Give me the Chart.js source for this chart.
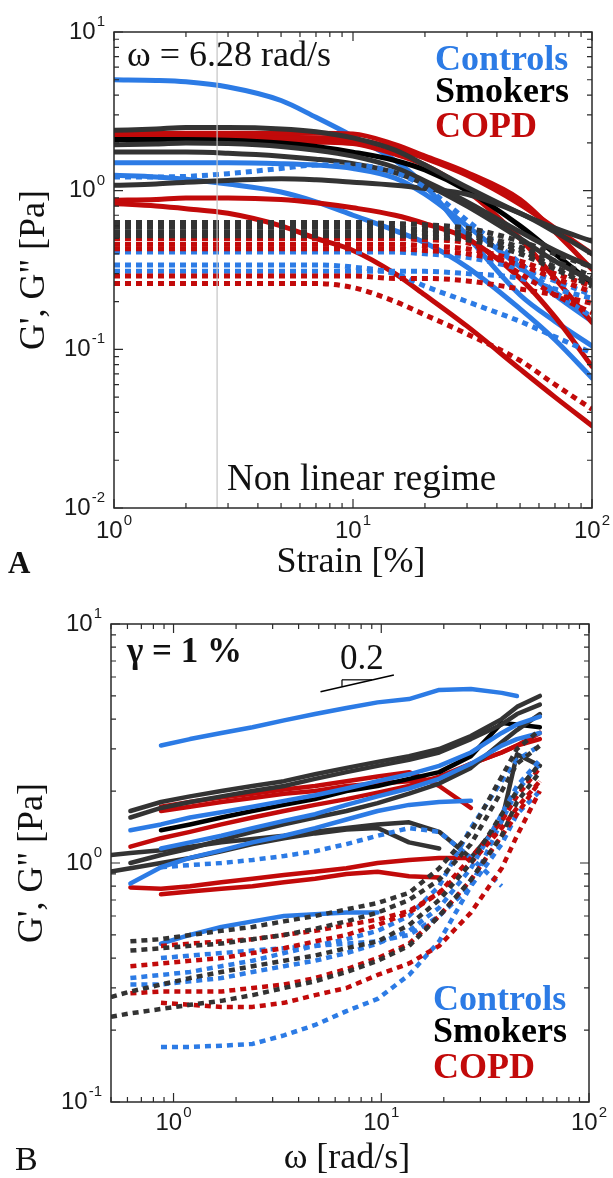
<!DOCTYPE html>
<html>
<head>
<meta charset="utf-8">
<script src="https://cdn.jsdelivr.net/npm/chart.js@4.4.1/dist/chart.umd.min.js"></script>
<style>
    body {margin: 0; background: #fff;}
    #wrap {position: relative; width: 613px; height: 1178px;}
    canvas {position: absolute; left: 0;}
</style>
</head>
<body>
<div id="wrap">
    <canvas id="chartA" width="613" height="589" style="top:0"></canvas>
    <canvas id="chartB" width="613" height="589" style="top:589px"></canvas>
</div>
<script>
// ---------- panel A: strain sweep at 6.28 rad/s ----------
const strain = [1, 1.5, 2, 3, 5, 7, 10, 15, 20, 30, 50, 70, 100];

// G' (solid)
const ctrlG1 = [5.0, 4.95, 4.85, 4.5, 3.7, 2.9, 2.2, 1.55, 1.08, 0.52, 0.22, 0.15, 0.105];
const ctrlG2 = [1.5, 1.5, 1.5, 1.5, 1.48, 1.45, 1.38, 1.2, 0.95, 0.6, 0.33, 0.22, 0.15];
const ctrlG3 = [1.25, 1.22, 1.18, 1.1, 0.98, 0.85, 0.7, 0.56, 0.47, 0.33, 0.18, 0.115, 0.066];
const smkG1 = [2.4, 2.45, 2.5, 2.5, 2.45, 2.35, 2.15, 1.8, 1.45, 1.05, 0.72, 0.58, 0.48];
const smkG2 = [1.95, 1.97, 2.0, 1.98, 1.9, 1.8, 1.65, 1.4, 1.15, 0.85, 0.55, 0.42, 0.33];
const smkG3 = [1.75, 1.75, 1.75, 1.72, 1.65, 1.58, 1.48, 1.3, 1.1, 0.8, 0.5, 0.36, 0.27];
const smkG4 = [1.08, 1.1, 1.13, 1.16, 1.19, 1.17, 1.13, 1.08, 1.03, 0.95, 0.72, 0.55, 0.4];
const smkG5 = [2.1, 2.1, 2.1, 2.08, 2.0, 1.9, 1.75, 1.55, 1.35, 1.0, 0.6, 0.4, 0.26];
const copdG1 = [2.3, 2.3, 2.3, 2.3, 2.3, 2.3, 2.28, 1.95, 1.65, 1.3, 0.88, 0.55, 0.32];
const copdG2 = [2.2, 2.2, 2.2, 2.2, 2.18, 2.15, 2.1, 1.85, 1.6, 1.25, 0.82, 0.58, 0.4];
const copdG3 = [2.15, 2.15, 2.13, 2.1, 2.07, 2.03, 1.98, 1.7, 1.45, 1.0, 0.5, 0.28, 0.148];
const copdG4 = [0.87, 0.88, 0.9, 0.9, 0.88, 0.84, 0.78, 0.7, 0.62, 0.5, 0.28, 0.16, 0.078];
const copdG5 = [0.83, 0.8, 0.77, 0.72, 0.6, 0.5, 0.42, 0.3, 0.22, 0.14, 0.075, 0.05, 0.033];

// G'' (dotted)
const ctrlGpp1 = [1.22, 1.22, 1.23, 1.28, 1.38, 1.45, 1.45, 1.3, 1.05, 0.65, 0.35, 0.23, 0.16];
const ctrlGpp2 = [0.41, 0.41, 0.41, 0.41, 0.41, 0.41, 0.41, 0.41, 0.4, 0.38, 0.32, 0.27, 0.22];
const ctrlGpp3 = [0.34, 0.34, 0.34, 0.34, 0.34, 0.34, 0.33, 0.3, 0.25, 0.2, 0.15, 0.12, 0.095];
const ctrlGpp4 = [0.31, 0.31, 0.31, 0.31, 0.31, 0.31, 0.31, 0.31, 0.31, 0.3, 0.28, 0.24, 0.21];
const smkGpp1 = [0.63, 0.63, 0.63, 0.63, 0.63, 0.63, 0.63, 0.62, 0.61, 0.58, 0.48, 0.4, 0.33];
const smkGpp2 = [0.59, 0.59, 0.59, 0.59, 0.59, 0.59, 0.59, 0.58, 0.57, 0.54, 0.44, 0.36, 0.29];
const smkGpp3 = [0.55, 0.55, 0.55, 0.55, 0.55, 0.55, 0.55, 0.55, 0.54, 0.52, 0.42, 0.33, 0.26];
const smkGpp4 = [0.52, 0.52, 0.52, 0.52, 0.52, 0.52, 0.52, 0.52, 0.51, 0.49, 0.4, 0.32, 0.25];
const copdGpp1 = [0.5, 0.5, 0.5, 0.5, 0.5, 0.5, 0.5, 0.5, 0.49, 0.47, 0.3, 0.22, 0.17];
const copdGpp2 = [0.46, 0.46, 0.46, 0.46, 0.46, 0.46, 0.46, 0.46, 0.45, 0.43, 0.36, 0.3, 0.25];
const copdGpp3 = [0.43, 0.43, 0.43, 0.43, 0.43, 0.43, 0.43, 0.43, 0.42, 0.4, 0.34, 0.28, 0.23];
const copdGpp4 = [0.29, 0.29, 0.29, 0.29, 0.29, 0.29, 0.29, 0.28, 0.28, 0.27, 0.24, 0.22, 0.195];
const copdGpp5 = [0.26, 0.26, 0.26, 0.26, 0.26, 0.26, 0.245, 0.2, 0.165, 0.125, 0.085, 0.06, 0.042];

const linearLimit = 2.7; // strain [%] where the grey line sits

// ---------- panel B: frequency sweep at 1 % strain ----------
const omega = [0.5, 0.62, 0.87, 1.2, 1.7, 2.4, 3.4, 4.8, 6.8, 9.6, 13.6, 19, 27, 38, 45, 58];

const ctrlB_G1 = [null, null, 3.1, 3.3, 3.5, 3.7, 3.95, 4.2, 4.45, 4.7, 4.85, 5.3, 5.35, 5.15, 5.0, null];
const ctrlB_G2 = [null, 1.37, 1.45, 1.55, 1.63, 1.72, 1.82, 1.92, 2.05, 2.2, 2.35, 2.55, 2.9, 3.5, 3.8, 4.1];
const ctrlB_G3 = [null, 0.82, 0.96, 1.05, 1.13, 1.22, 1.3, 1.4, 1.52, 1.65, 1.75, 1.8, 1.82, null, null, null];
const ctrlB_G4 = [null, null, 1.15, 1.22, 1.3, 1.4, 1.5, 1.6, 1.75, 1.9, 2.05, 2.25, 2.6, 3.1, 3.3, 3.5];
const ctrlB_G5 = [null, null, 0.46, 0.5, 0.54, 0.57, 0.6, 0.61, 0.62, 0.62, null, null, null, null, null, null];
const smkB_G0 = [null, null, 1.37, 1.45, 1.55, 1.65, 1.75, 1.85, 2.0, 2.1, 2.25, 2.4, 2.8, 3.85, 3.8, 3.7];
const smkB_G1 = [null, 1.65, 1.8, 1.9, 2.0, 2.1, 2.2, 2.35, 2.5, 2.65, 2.8, 3.0, 3.4, 4.0, 4.5, 5.0];
const smkB_G2 = [null, 1.55, 1.7, 1.8, 1.9, 2.0, 2.1, 2.25, 2.4, 2.55, 2.7, 2.9, 3.3, 3.8, 4.2, 4.6];
const smkB_G3 = [1.08, 1.1, 1.13, 1.17, 1.22, 1.26, 1.3, 1.35, 1.4, 1.45, 1.48, 1.35, 1.05, 1.5, 2.85, 2.55];
const smkB_G4 = [0.92, 0.95, 1.0, 1.05, 1.12, 1.2, 1.27, 1.33, 1.38, 1.4, 1.22, 1.15, null, null, null, null];
const smkB_G5 = [null, 1.0, 1.08, 1.15, 1.25, 1.35, 1.45, 1.55, 1.65, 1.78, 1.95, 2.15, 2.5, 3.2, 3.6, 4.2];
const copdB_G1 = [null, null, 1.72, 1.8, 1.88, 1.95, 2.03, 2.1, 2.2, 2.3, 2.4, 2.1, 1.7, null, null, null];
const copdB_G2 = [null, null, 1.65, 1.72, 1.8, 1.87, 1.95, 2.0, 2.1, 2.15, 2.2, 2.25, 2.6, 2.9, 3.1, 3.5];
const copdB_G3 = [null, 1.17, 1.27, 1.35, 1.45, 1.55, 1.65, 1.75, 1.85, 1.97, 2.1, 2.3, 2.6, 2.9, 3.1, 3.3];
const copdB_G4 = [null, 0.79, 0.78, 0.8, 0.83, 0.86, 0.89, 0.92, 0.95, 1.0, 1.03, 1.05, 1.05, null, null, null];
const copdB_G5 = [null, null, 0.74, 0.76, 0.78, 0.8, 0.83, 0.86, 0.9, 0.92, 0.88, 0.87, null, null, null, null];

const ctrlB_Gpp1 = [null, null, 0.96, 0.98, 1.0, 1.03, 1.07, 1.12, 1.2, 1.3, 1.4, 1.35, 1.05, 0.8, null, null];
const ctrlB_Gpp2 = [null, 0.33, 0.34, 0.35, 0.37, 0.39, 0.42, 0.45, 0.48, 0.52, 0.6, 0.8, 1.4, 2.2, 2.7, 3.1];
const ctrlB_Gpp3 = [null, 0.31, 0.31, 0.32, 0.33, 0.35, 0.37, 0.39, 0.42, 0.46, 0.52, 0.65, 0.95, 1.6, 2.1, 2.7];
const ctrlB_Gpp4 = [null, null, 0.17, 0.17, 0.172, 0.175, 0.19, 0.21, 0.24, 0.27, 0.34, 0.47, 0.8, 1.5, 2.0, 2.6];
const ctrlB_Gpp5 = [null, null, 0.4, 0.41, 0.42, 0.43, 0.44, 0.45, 0.46, 0.47, 0.5, 0.6, 0.8, 1.2, 1.6, 2.0];
const smkB_Gpp1 = [null, 0.47, 0.48, 0.5, 0.52, 0.54, 0.57, 0.6, 0.64, 0.68, 0.75, 0.95, 1.35, 2.3, 3.0, 3.6];
const smkB_Gpp2 = [null, 0.43, 0.44, 0.45, 0.46, 0.48, 0.5, 0.53, 0.57, 0.62, 0.7, 0.85, 1.2, 2.0, 2.6, 3.1];
const smkB_Gpp3 = [0.275, 0.29, 0.31, 0.33, 0.35, 0.37, 0.39, 0.41, 0.44, 0.47, 0.55, 0.7, 1.0, 1.6, 2.0, 2.6];
const smkB_Gpp4 = [0.227, 0.235, 0.245, 0.255, 0.265, 0.28, 0.3, 0.32, 0.35, 0.39, 0.45, 0.6, 0.85, 1.3, 1.8, 2.4];
const copdB_Gpp1 = [null, 0.37, 0.38, 0.39, 0.4, 0.42, 0.44, 0.47, 0.5, 0.55, 0.62, 0.75, 1.05, 1.5, 1.9, 2.5];
const copdB_Gpp2 = [null, null, 0.45, 0.46, 0.47, 0.48, 0.5, 0.52, 0.55, 0.58, 0.63, 0.75, 1.0, 1.4, 1.7, 2.2];
const copdB_Gpp3 = [null, 0.285, 0.29, 0.29, 0.29, 0.3, 0.31, 0.33, 0.36, 0.4, 0.46, 0.6, 0.85, 1.3, 1.6, 2.2];
const copdB_Gpp4 = [null, null, 0.26, 0.255, 0.25, 0.25, 0.26, 0.28, 0.3, 0.34, 0.38, 0.45, 0.62, 0.95, 1.3, 2.0];

// slope 0.2 guide (omega, G)
const slopeX = [5.1, 11.5];
const slopeY = [5.21, 6.12];
const triX = [6.47, 9.03, 6.47, 6.47];
const triY = [5.84, 5.84, 5.84, 5.47];

const BLUE = '#2c7be5';
const GREY = '#333333';
const BLACK = '#000000';
const RED = '#c20a0a';
const SERIF = '"Liberation Serif", "Times New Roman", serif';
const SANS = '"Liberation Sans", Arial, sans-serif';

const curve = function (xs, ys, color, dotted, width, tension) {
    const pts = [];
    xs.forEach((x, i) => {
        if (ys[i] != null) pts.push({x: x, y: ys[i]});
    });
    return {
        data: pts,
        borderColor: color,
        borderWidth: width,
        borderDash: dotted ? [6, 5] : [],
        borderCapStyle: dotted ? 'butt' : 'round',
        borderJoinStyle: 'round',
        pointRadius: 0,
        fill: false,
        tension: tension,
        cubicInterpolationMode: tension ? 'monotone' : 'default',
    };
}

const pairs = (xs, ys) => xs.map((x, i) => ({x: x, y: ys[i]}));

// frame, inward ticks, 10^n labels and all texts
const decoPlugin = function (cfg) {
    return {
        id: 'deco',
        afterDraw(chart) {
            const {ctx, chartArea: a} = chart;
            const xs = chart.scales.x, ys = chart.scales.y;
            ctx.save();
            ctx.strokeStyle = '#2a2a2a';
            ctx.lineWidth = 1.5;
            ctx.strokeRect(a.left, a.top, a.right - a.left, a.bottom - a.top);

            const decadeMarks = (min, max) => {
                const out = [];
                for (let k = Math.floor(Math.log10(min)); k <= Math.ceil(Math.log10(max)); k++) {
                    for (let m = 1; m <= 9; m++) {
                        const v = m * Math.pow(10, k);
                        if (v >= min * 0.999 && v <= max * 1.001) out.push({v: v, major: m === 1, k: k});
                    }
                }
                return out;
            };
            ctx.lineWidth = 1.2;
            ctx.beginPath();
            decadeMarks(xs.min, xs.max).forEach(t => {
                const px = xs.getPixelForValue(t.v), len = t.major ? 9 : 5;
                ctx.moveTo(px, a.bottom); ctx.lineTo(px, a.bottom - len);
                ctx.moveTo(px, a.top); ctx.lineTo(px, a.top + len);
            });
            decadeMarks(ys.min, ys.max).forEach(t => {
                const py = ys.getPixelForValue(t.v), len = t.major ? 9 : 5;
                ctx.moveTo(a.left, py); ctx.lineTo(a.left + len, py);
                ctx.moveTo(a.right, py); ctx.lineTo(a.right - len, py);
            });
            ctx.stroke();

            const pow = (exp, x, y, align) => {
                ctx.font = '24px ' + SANS;
                const bw = ctx.measureText('10').width;
                ctx.font = '15px ' + SANS;
                const ew = ctx.measureText(exp).width;
                const left = align === 'right' ? x - bw - ew - 1 : x - (bw + ew + 1) / 2;
                ctx.fillStyle = '#1a1a1a';
                ctx.textAlign = 'left';
                ctx.textBaseline = 'middle';
                ctx.font = '24px ' + SANS;
                ctx.fillText('10', left, y);
                ctx.font = '15px ' + SANS;
                ctx.fillText(exp, left + bw + 1, y - 10);
            };
            decadeMarks(xs.min, xs.max).filter(t => t.major).forEach(t => {
                pow(String(t.k), xs.getPixelForValue(t.v), a.bottom + cfg.xLabelGap, 'center');
            });
            decadeMarks(ys.min, ys.max).filter(t => t.major).forEach(t => {
                pow(String(t.k), a.left - 9, ys.getPixelForValue(t.v), 'right');
            });

            ctx.textBaseline = 'alphabetic';
            cfg.texts.forEach(t => {
                ctx.save();
                ctx.font = t.font;
                ctx.fillStyle = t.color || '#111';
                ctx.textAlign = t.align || 'left';
                ctx.translate(t.x, t.y);
                if (t.rotate) ctx.rotate(t.rotate);
                ctx.fillText(t.text, 0, 0);
                ctx.restore();
            });
            ctx.restore();
        }
    };
}

const baseOptions = function (pad, xMin, xMax, yMin, yMax) {
    return {
        responsive: false,
        animation: false,
        events: [],
        layout: {padding: pad},
        plugins: {legend: {display: false}, tooltip: {enabled: false}},
        scales: {
            x: {type: 'logarithmic', min: xMin, max: xMax, display: false},
            y: {type: 'logarithmic', min: yMin, max: yMax, display: false},
        },
    };
}

// ----- chart A -----
const tA = 0.35;
const dsA = [
    {data: [{x: linearLimit, y: 0.01}, {x: linearLimit, y: 10}], borderColor: '#c4c4c4', borderWidth: 1.2, pointRadius: 0},
    curve(strain, smkGpp1, GREY, true, 5, tA),
    curve(strain, smkGpp2, GREY, true, 5, tA),
    curve(strain, smkGpp3, GREY, true, 5, tA),
    curve(strain, smkGpp4, GREY, true, 5, tA),
    curve(strain, copdGpp1, RED, true, 5, tA),
    curve(strain, copdGpp2, RED, true, 5, tA),
    curve(strain, copdGpp3, RED, true, 5, tA),
    curve(strain, copdGpp4, RED, true, 5, tA),
    curve(strain, copdGpp5, RED, true, 5, tA),
    curve(strain, ctrlGpp1, BLUE, true, 5, tA),
    curve(strain, ctrlGpp2, BLUE, true, 5, tA),
    curve(strain, ctrlGpp3, BLUE, true, 5, tA),
    curve(strain, ctrlGpp4, BLUE, true, 5, tA),
    curve(strain, smkG1, GREY, false, 5, tA),
    curve(strain, smkG2, GREY, false, 5, tA),
    curve(strain, smkG3, GREY, false, 5, tA),
    curve(strain, smkG4, GREY, false, 5, tA),
    curve(strain, smkG5, BLACK, false, 5, tA),
    curve(strain, copdG1, RED, false, 5, tA),
    curve(strain, copdG2, RED, false, 5, tA),
    curve(strain, copdG3, RED, false, 5, tA),
    curve(strain, copdG4, RED, false, 5, tA),
    curve(strain, copdG5, RED, false, 5, tA),
    curve(strain, ctrlG1, BLUE, false, 5, tA),
    curve(strain, ctrlG2, BLUE, false, 5, tA),
    curve(strain, ctrlG3, BLUE, false, 5, tA),
];

new Chart(document.getElementById('chartA'), {
    type: 'line',
    data: {datasets: dsA},
    options: baseOptions({left: 114, right: 21, top: 32, bottom: 81}, 1, 100, 0.01, 10),
    plugins: [decoPlugin({
        xLabelGap: 23,
        texts: [
            {text: 'ω = 6.28 rad/s', x: 127, y: 66, font: '36px ' + SERIF},
            {text: 'Controls', x: 435, y: 70, font: 'bold 36px ' + SERIF, color: BLUE},
            {text: 'Smokers', x: 435, y: 102, font: 'bold 36px ' + SERIF, color: '#000'},
            {text: 'COPD', x: 435, y: 137, font: 'bold 36px ' + SERIF, color: RED},
            {text: 'Non linear regime', x: 227, y: 490, font: '37px ' + SERIF},
            {text: 'Strain [%]', x: 351, y: 572, font: '36px ' + SERIF, align: 'center'},
            {text: 'G\', G" [Pa]', x: 44, y: 270, font: '36px ' + SERIF, align: 'center', rotate: -Math.PI / 2},
            {text: 'A', x: 8, y: 573, font: 'bold 31px ' + SERIF},
        ]
    })]
});

// ----- chart B -----
const dsB = [
    curve(omega, smkB_Gpp1, GREY, true, 4.5, 0),
    curve(omega, smkB_Gpp2, GREY, true, 4.5, 0),
    curve(omega, smkB_Gpp3, GREY, true, 4.5, 0),
    curve(omega, smkB_Gpp4, GREY, true, 4.5, 0),
    curve(omega, copdB_Gpp1, RED, true, 4.5, 0),
    curve(omega, copdB_Gpp2, RED, true, 4.5, 0),
    curve(omega, copdB_Gpp3, RED, true, 4.5, 0),
    curve(omega, copdB_Gpp4, RED, true, 4.5, 0),
    curve(omega, ctrlB_Gpp1, BLUE, true, 4.5, 0),
    curve(omega, ctrlB_Gpp2, BLUE, true, 4.5, 0),
    curve(omega, ctrlB_Gpp3, BLUE, true, 4.5, 0),
    curve(omega, ctrlB_Gpp4, BLUE, true, 4.5, 0),
    curve(omega, ctrlB_Gpp5, BLUE, true, 4.5, 0),
    curve(omega, ctrlB_G2, BLUE, false, 4.5, 0),
    curve(omega, ctrlB_G3, BLUE, false, 4.5, 0),
    curve(omega, ctrlB_G4, BLUE, false, 4.5, 0),
    curve(omega, ctrlB_G5, BLUE, false, 4.5, 0),
    curve(omega, smkB_G1, GREY, false, 4.5, 0),
    curve(omega, smkB_G2, GREY, false, 4.5, 0),
    curve(omega, smkB_G3, GREY, false, 4.5, 0),
    curve(omega, smkB_G4, GREY, false, 4.5, 0),
    curve(omega, smkB_G5, GREY, false, 4.5, 0),
    curve(omega, smkB_G0, BLACK, false, 4.5, 0),
    curve(omega, copdB_G1, RED, false, 4.5, 0),
    curve(omega, copdB_G2, RED, false, 4.5, 0),
    curve(omega, copdB_G3, RED, false, 4.5, 0),
    curve(omega, copdB_G4, RED, false, 4.5, 0),
    curve(omega, copdB_G5, RED, false, 4.5, 0),
    curve(omega, ctrlB_G1, BLUE, false, 4.5, 0),
    {data: pairs(slopeX, slopeY), borderColor: '#000', borderWidth: 1.6, pointRadius: 0},
    {data: pairs(triX.slice(0, 2), triY.slice(0, 2)), borderColor: '#000', borderWidth: 1.2, pointRadius: 0},
    {data: pairs(triX.slice(2), triY.slice(2)), borderColor: '#000', borderWidth: 1.2, pointRadius: 0},
];

new Chart(document.getElementById('chartB'), {
    type: 'line',
    data: {datasets: dsB},
    options: baseOptions({left: 111, right: 24, top: 35, bottom: 76}, 0.5, 100, 0.1, 10),
    plugins: [decoPlugin({
        xLabelGap: 21,
        texts: [
            {text: 'γ = 1 %', x: 127, y: 73, font: 'bold 35px ' + SERIF},
            {text: '0.2', x: 340, y: 80, font: '35px ' + SERIF},
            {text: 'Controls', x: 433, y: 421, font: 'bold 36px ' + SERIF, color: BLUE},
            {text: 'Smokers', x: 433, y: 453, font: 'bold 36px ' + SERIF, color: '#000'},
            {text: 'COPD', x: 433, y: 489, font: 'bold 36px ' + SERIF, color: RED},
            {text: 'ω [rad/s]', x: 347, y: 579, font: '36px ' + SERIF, align: 'center'},
            {text: 'G\', G" [Pa]', x: 42, y: 274, font: '36px ' + SERIF, align: 'center', rotate: -Math.PI / 2},
            {text: 'B', x: 15, y: 581, font: '34px ' + SERIF},
        ]
    })]
});
</script>
</body>
</html>
